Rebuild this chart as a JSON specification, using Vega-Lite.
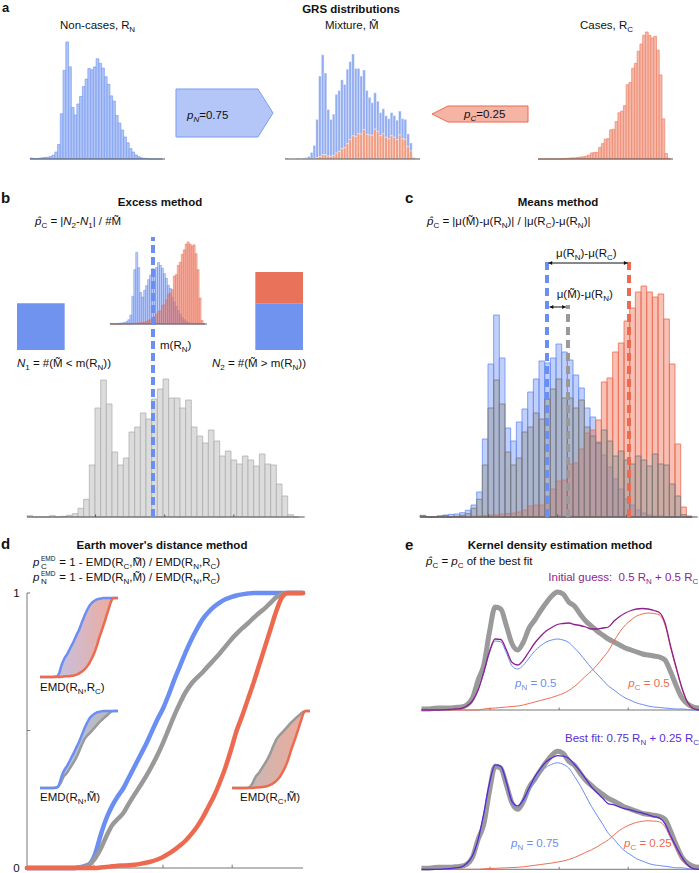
{
"$schema":"https://vega.github.io/schema/vega-lite/v6.json",
"width":699,"height":873,"autosize":"none","padding":0,"background":"#ffffff",
"config":{"view":{"stroke":null},"axis":{"disable":true},"legend":{"disable":true},"text":{"font":"Liberation Sans","fontSize":11.5,"align":"left","baseline":"alphabetic","color":"#111111"}},
"datasets":{
"one":[{}],
"ticks":[{"t":12.1},{"t":24.3},{"t":36.5}],
"dticks":[{"t":11.8},{"t":24},{"t":36.2}],
"lticks":[{"t":0.5},{"t":1}],
"hist":[
{"lo":0,"hi":1,"n":1.7,"c":0,"m":1.3,"mb":1.3,"mr":0},
{"lo":1,"hi":2,"n":0.5,"c":0,"m":0,"mb":0,"mr":0},
{"lo":2,"hi":3,"n":0.5,"c":0,"m":0,"mb":0,"mr":0},
{"lo":3,"hi":4,"n":1.3,"c":0,"m":0,"mb":0,"mr":0},
{"lo":4,"hi":5,"n":2,"c":0,"m":1.3,"mb":1.3,"mr":0},
{"lo":5,"hi":6,"n":2.7,"c":0,"m":0,"mb":0,"mr":0},
{"lo":6,"hi":7,"n":3,"c":0,"m":0.7,"mb":0.7,"mr":0},
{"lo":7,"hi":8,"n":4.3,"c":0,"m":1.7,"mb":1.7,"mr":0},
{"lo":8,"hi":9,"n":6.7,"c":0,"m":3.3,"mb":3.3,"mr":0},
{"lo":9,"hi":10,"n":12,"c":0.7,"m":8.7,"mb":8.7,"mr":0},
{"lo":10,"hi":11,"n":25,"c":1,"m":17.7,"mb":17.2,"mr":0.5},
{"lo":11,"hi":12,"n":78,"c":1.5,"m":52,"mb":50.4,"mr":1.6},
{"lo":12,"hi":13,"n":153,"c":2,"m":109,"mb":105.7,"mr":3.3},
{"lo":13,"hi":14,"n":202,"c":2,"m":137,"mb":131.5,"mr":5.5},
{"lo":14,"hi":15,"n":159,"c":3,"m":113,"mb":107.3,"mr":5.7},
{"lo":15,"hi":16,"n":89,"c":3.5,"m":65,"mb":61.1,"mr":3.9},
{"lo":16,"hi":17,"n":76,"c":4,"m":52,"mb":48.4,"mr":3.6},
{"lo":17,"hi":18,"n":95,"c":5,"m":59,"mb":54.3,"mr":4.7},
{"lo":18,"hi":19,"n":108,"c":7,"m":85,"mb":77.3,"mr":7.7},
{"lo":19,"hi":20,"n":125,"c":11,"m":90,"mb":80.1,"mr":9.9},
{"lo":20,"hi":21,"n":138,"c":12,"m":104,"mb":90.5,"mr":13.5},
{"lo":21,"hi":22,"n":156,"c":12,"m":98,"mb":83.3,"mr":14.7},
{"lo":22,"hi":23,"n":154,"c":21,"m":118,"mb":97.9,"mr":20.1},
{"lo":23,"hi":24,"n":159,"c":28,"m":128,"mb":102.4,"mr":25.6},
{"lo":24,"hi":25,"n":173,"c":36,"m":138,"mb":107.6,"mr":30.4},
{"lo":25,"hi":26,"n":165,"c":37,"m":119,"mb":89.2,"mr":29.8},
{"lo":26,"hi":27,"n":157,"c":53,"m":119,"mb":85.7,"mr":33.3},
{"lo":27,"hi":28,"n":142,"c":54,"m":109,"mb":76.3,"mr":32.7},
{"lo":28,"hi":29,"n":129,"c":68,"m":117,"mb":78.4,"mr":38.6},
{"lo":29,"hi":30,"n":109,"c":84,"m":90,"mb":57.6,"mr":32.4},
{"lo":30,"hi":31,"n":100,"c":87,"m":81,"mb":49.4,"mr":31.6},
{"lo":31,"hi":32,"n":75,"c":97,"m":74,"mb":42.9,"mr":31.1},
{"lo":32,"hi":33,"n":62,"c":135,"m":87,"mb":47.8,"mr":39.2},
{"lo":33,"hi":34,"n":50,"c":139,"m":76,"mb":39.5,"mr":36.5},
{"lo":34,"hi":35,"n":38,"c":165,"m":61,"mb":30.5,"mr":30.5},
{"lo":35,"hi":36,"n":28,"c":174,"m":66,"mb":33,"mr":33},
{"lo":36,"hi":37,"n":18,"c":196,"m":57,"mb":28.5,"mr":28.5},
{"lo":37,"hi":38,"n":12,"c":209,"m":53,"mb":26.5,"mr":26.5},
{"lo":38,"hi":39,"n":7,"c":225,"m":61,"mb":30.5,"mr":30.5},
{"lo":39,"hi":40,"n":4,"c":231,"m":57,"mb":28.5,"mr":28.5},
{"lo":40,"hi":41,"n":2,"c":225,"m":51,"mb":25.5,"mr":25.5},
{"lo":41,"hi":42,"n":1,"c":220,"m":63,"mb":31.5,"mr":31.5},
{"lo":42,"hi":43,"n":1,"c":223,"m":53,"mb":26.5,"mr":26.5},
{"lo":43,"hi":44,"n":0,"c":198,"m":52,"mb":26,"mr":26},
{"lo":44,"hi":45,"n":0,"c":153,"m":33,"mb":16.5,"mr":16.5},
{"lo":45,"hi":46,"n":0,"c":73,"m":21,"mb":10.5,"mr":10.5},
{"lo":46,"hi":47,"n":0,"c":10,"m":2.3,"mb":1.2,"mr":1.1},
{"lo":47,"hi":48,"n":0,"c":1,"m":0,"mb":0,"mr":0}
],
"cdf":[
{"g":0,"n":0,"m":0,"c":0},{"g":1,"n":0,"m":0,"c":0},{"g":2,"n":0,"m":0,"c":0},{"g":3,"n":0,"m":0,"c":0},
{"g":4,"n":0,"m":0,"c":0},{"g":5,"n":0,"m":0,"c":0},{"g":6,"n":0,"m":0,"c":0},{"g":7,"n":0,"m":0,"c":0},
{"g":8,"n":0,"m":0,"c":0},
{"g":9,"n":0.002,"m":0.001,"c":0},
{"g":10,"n":0.006,"m":0.003,"c":0},
{"g":11,"n":0.014,"m":0.012,"c":0},
{"g":12,"n":0.05,"m":0.035,"c":0},
{"g":13,"n":0.12,"m":0.07,"c":0.002},
{"g":14,"n":0.18,"m":0.115,"c":0.004},
{"g":15,"n":0.225,"m":0.155,"c":0.006},
{"g":16,"n":0.26,"m":0.178,"c":0.008},
{"g":17,"n":0.29,"m":0.2,"c":0.009},
{"g":18,"n":0.33,"m":0.235,"c":0.01},
{"g":19,"n":0.37,"m":0.268,"c":0.012},
{"g":20,"n":0.41,"m":0.3,"c":0.015},
{"g":21,"n":0.45,"m":0.333,"c":0.019},
{"g":22,"n":0.495,"m":0.37,"c":0.024},
{"g":23,"n":0.54,"m":0.41,"c":0.031},
{"g":24,"n":0.58,"m":0.455,"c":0.04},
{"g":25,"n":0.63,"m":0.505,"c":0.052},
{"g":26,"n":0.685,"m":0.555,"c":0.066},
{"g":27,"n":0.735,"m":0.6,"c":0.082},
{"g":28,"n":0.785,"m":0.64,"c":0.1},
{"g":29,"n":0.83,"m":0.67,"c":0.123},
{"g":30,"n":0.87,"m":0.692,"c":0.15},
{"g":31,"n":0.905,"m":0.712,"c":0.183},
{"g":32,"n":0.93,"m":0.735,"c":0.222},
{"g":33,"n":0.95,"m":0.757,"c":0.262},
{"g":34,"n":0.965,"m":0.78,"c":0.31},
{"g":35,"n":0.977,"m":0.805,"c":0.365},
{"g":36,"n":0.985,"m":0.83,"c":0.43},
{"g":37,"n":0.991,"m":0.852,"c":0.5},
{"g":38,"n":0.995,"m":0.872,"c":0.555},
{"g":39,"n":0.998,"m":0.89,"c":0.615},
{"g":40,"n":1,"m":0.91,"c":0.675},
{"g":41,"n":1,"m":0.928,"c":0.74},
{"g":42,"n":1,"m":0.945,"c":0.805},
{"g":43,"n":1,"m":0.965,"c":0.87},
{"g":44,"n":1,"m":0.985,"c":0.935},
{"g":45,"n":1,"m":0.996,"c":0.985},
{"g":46,"n":1,"m":1,"c":1},
{"g":47,"n":1,"m":1,"c":1},
{"g":48,"n":1,"m":1,"c":1},
{"g":48.7,"n":1,"m":1,"c":1}
],
"kde":[
{"g":0,"nh":0,"ch":0,"mh":0,"n75":0,"c25":0,"mb":0,"m":1},
{"g":1,"nh":0,"ch":0,"mh":0,"n75":0,"c25":0,"mb":0,"m":1},
{"g":2,"nh":0,"ch":0,"mh":0,"n75":0,"c25":0,"mb":0,"m":1.5},
{"g":3,"nh":0,"ch":0,"mh":0,"n75":0,"c25":0,"mb":0,"m":2},
{"g":4,"nh":0.25,"ch":0,"mh":0.25,"n75":0.38,"c25":0,"mb":0.38,"m":2},
{"g":5,"nh":0.5,"ch":0,"mh":0.5,"n75":0.75,"c25":0,"mb":0.75,"m":2},
{"g":6,"nh":1,"ch":0,"mh":1,"n75":1.5,"c25":0,"mb":1.5,"m":2.5},
{"g":7,"nh":1.5,"ch":0,"mh":1.5,"n75":2.25,"c25":0,"mb":2.25,"m":3},
{"g":8,"nh":4,"ch":0,"mh":4,"n75":6,"c25":0,"mb":6,"m":5},
{"g":9,"nh":9,"ch":0,"mh":9,"n75":13.5,"c25":0,"mb":13.5,"m":12},
{"g":10,"nh":20,"ch":0,"mh":20,"n75":30,"c25":0,"mb":30,"m":30},
{"g":11,"nh":37,"ch":1,"mh":38,"n75":55.5,"c25":0.5,"mb":56,"m":45},
{"g":12,"nh":57,"ch":1.5,"mh":58.5,"n75":85.5,"c25":0.75,"mb":86.25,"m":78},
{"g":13,"nh":69,"ch":2,"mh":71,"n75":103.5,"c25":1,"mb":104.5,"m":103},
{"g":14,"nh":68,"ch":2.5,"mh":70.5,"n75":102,"c25":1.25,"mb":103.25,"m":101},
{"g":15,"nh":57,"ch":3,"mh":60,"n75":85.5,"c25":1.5,"mb":87,"m":84},
{"g":16,"nh":44,"ch":3.5,"mh":47.5,"n75":66,"c25":1.75,"mb":67.75,"m":66},
{"g":17,"nh":41,"ch":4,"mh":45,"n75":61.5,"c25":2,"mb":63.5,"m":60},
{"g":18,"nh":45,"ch":5,"mh":50,"n75":67.5,"c25":2.5,"mb":70,"m":68},
{"g":19,"nh":52,"ch":6.5,"mh":58.5,"n75":78,"c25":3.25,"mb":81.25,"m":82},
{"g":20,"nh":59,"ch":8,"mh":67,"n75":88.5,"c25":4,"mb":92.5,"m":90},
{"g":21,"nh":64,"ch":9.5,"mh":73.5,"n75":96,"c25":4.75,"mb":100.75,"m":99},
{"g":22,"nh":68,"ch":11,"mh":79,"n75":102,"c25":5.5,"mb":107.5,"m":107},
{"g":23,"nh":70,"ch":12.5,"mh":82.5,"n75":105,"c25":6.25,"mb":111.25,"m":114},
{"g":24,"nh":71,"ch":14.5,"mh":85.5,"n75":106.5,"c25":7.25,"mb":113.75,"m":118},
{"g":25,"nh":70,"ch":16.5,"mh":86.5,"n75":105,"c25":8.25,"mb":113.25,"m":116},
{"g":26,"nh":67.5,"ch":19.5,"mh":87,"n75":101.25,"c25":9.75,"mb":111,"m":108},
{"g":27,"nh":62,"ch":23.5,"mh":85.5,"n75":93,"c25":11.75,"mb":104.75,"m":104},
{"g":28,"nh":56,"ch":28.5,"mh":84.5,"n75":84,"c25":14.25,"mb":98.25,"m":96},
{"g":29,"nh":49,"ch":34,"mh":83,"n75":73.5,"c25":17,"mb":90.5,"m":89},
{"g":30,"nh":42,"ch":39,"mh":81,"n75":63,"c25":19.5,"mb":82.5,"m":84},
{"g":31,"nh":36,"ch":45,"mh":81,"n75":54,"c25":22.5,"mb":76.5,"m":79},
{"g":32,"nh":30,"ch":52,"mh":82,"n75":45,"c25":26,"mb":71,"m":75},
{"g":33,"nh":24,"ch":59,"mh":83,"n75":36,"c25":29.5,"mb":65.5,"m":71},
{"g":34,"nh":20,"ch":69,"mh":89,"n75":30,"c25":34.5,"mb":64.5,"m":68},
{"g":35,"nh":15.5,"ch":78,"mh":93.5,"n75":23.25,"c25":39,"mb":62.25,"m":65},
{"g":36,"nh":12,"ch":85,"mh":97,"n75":18,"c25":42.5,"mb":60.5,"m":62},
{"g":37,"nh":9.5,"ch":90,"mh":99.5,"n75":14.25,"c25":45,"mb":59.25,"m":60},
{"g":38,"nh":7,"ch":94,"mh":101,"n75":10.5,"c25":47,"mb":57.5,"m":58},
{"g":39,"nh":5.5,"ch":96,"mh":101.5,"n75":8.25,"c25":48,"mb":56.25,"m":56},
{"g":40,"nh":4,"ch":97,"mh":101,"n75":6,"c25":48.5,"mb":54.5,"m":55},
{"g":41,"nh":3,"ch":96.5,"mh":99.5,"n75":4.5,"c25":48.25,"mb":52.75,"m":54},
{"g":42,"nh":2.5,"ch":95,"mh":97.5,"n75":3.75,"c25":47.5,"mb":51.25,"m":53},
{"g":43,"nh":2,"ch":85,"mh":87,"n75":3,"c25":42.5,"mb":45.5,"m":50},
{"g":44,"nh":1.5,"ch":62,"mh":63.5,"n75":2.25,"c25":31,"mb":33.25,"m":38},
{"g":45,"nh":1,"ch":41,"mh":42,"n75":1.5,"c25":20.5,"mb":22,"m":24},
{"g":46,"nh":1,"ch":21,"mh":22,"n75":1.5,"c25":10.5,"mb":12,"m":12},
{"g":47,"nh":0.5,"ch":7,"mh":7.5,"n75":0.75,"c25":3.5,"mb":4.25,"m":6},
{"g":48,"nh":0,"ch":1.5,"mh":1.5,"n75":0,"c25":0.75,"mb":0.75,"m":3},
{"g":49,"nh":0,"ch":0,"mh":0,"n75":0,"c25":0,"mb":0,"m":2}
]
},
"resolve":{"scale":{"x":"independent","y":"independent","color":"independent"}},
"layer":[
{"layer":[
 {"data":{"name":"hist"},"mark":{"type":"bar","fill":"#b0c4f7","stroke":"#7b9df2","strokeWidth":0.7},
  "encoding":{"x":{"field":"lo","type":"quantitative","axis":null,"scale":{"domain":[0,49],"range":[30,165],"nice":false,"zero":false}},"x2":{"field":"hi"},
   "y":{"field":"n","type":"quantitative","axis":null,"scale":{"domain":[0,202],"range":[159,42],"nice":false,"zero":false}},"y2":{"datum":0}}},
 {"data":{"name":"one"},"mark":{"type":"rule","color":"#555555","strokeWidth":1},"encoding":{"x":{"datum":0},"x2":{"datum":49},"y":{"datum":0}}}
]},
{"layer":[
 {"data":{"name":"hist"},"mark":{"type":"bar","fill":"#f6b9a9","stroke":"#ef8269","strokeWidth":0.7},
  "encoding":{"x":{"field":"lo","type":"quantitative","axis":null,"scale":{"domain":[0,49],"range":[538,673],"nice":false,"zero":false}},"x2":{"field":"hi"},
   "y":{"field":"c","type":"quantitative","axis":null,"scale":{"domain":[0,231],"range":[159,32],"nice":false,"zero":false}},"y2":{"datum":0}}},
 {"data":{"name":"one"},"mark":{"type":"rule","color":"#555555","strokeWidth":1},"encoding":{"x":{"datum":0},"x2":{"datum":49},"y":{"datum":0}}}
]},
{"layer":[
 {"data":{"name":"hist"},"transform":[{"fold":["mb","mr"],"as":["part","val"]}],"mark":{"type":"bar","binSpacing":0,"stroke":"#ffffff","strokeWidth":0.4},
  "encoding":{"x":{"field":"lo","bin":"binned","type":"quantitative","axis":null,"scale":{"domain":[0,49],"range":[285,420],"nice":false,"zero":false}},"x2":{"field":"hi"},
   "y":{"field":"val","type":"quantitative","stack":"zero","axis":null,"scale":{"domain":[0,138],"range":[159,54],"nice":false,"zero":false}},
   "color":{"field":"part","type":"nominal","legend":null,"scale":{"domain":["mb","mr"],"range":["#93adf1","#f09a80"]}}}},
 {"data":{"name":"one"},"mark":{"type":"rule","color":"#555555","strokeWidth":1},"encoding":{"x":{"datum":0},"x2":{"datum":49},"y":{"datum":0}}},
 {"data":{"name":"one"},"mark":{"type":"point","shape":"M-1,-0.495L0.69,-0.495L1,0L0.69,0.495L-1,0.495Z","size":9409,"filled":true,"fill":"#b3c6f7","stroke":"#7b9df2","strokeWidth":1,"opacity":1},"encoding":{"x":{"datum":-21.96},"y":{"datum":60.46}}},
 {"data":{"name":"one"},"mark":{"type":"point","shape":"M1,-0.167L-0.667,-0.167L-1,0L-0.667,0.167L1,0.167Z","size":9216,"filled":true,"fill":"#f5b4a4","stroke":"#ec6b50","strokeWidth":1,"opacity":1},"encoding":{"x":{"datum":70.78},"y":{"datum":59.14}}},
 {"data":{"name":"one"},"mark":{"type":"text","text":"a","fontSize":13,"fontWeight":"bold"},"encoding":{"x":{"datum":-102.7},"y":{"datum":193}}},
 {"data":{"name":"one"},"mark":{"type":"text","text":"GRS distributions","fontWeight":"bold","align":"center"},"encoding":{"x":{"datum":23.96},"y":{"datum":192.3}}},
 {"data":{"name":"one"},"encoding":{"x":{"datum":-81.67},"y":{"datum":170.86}},"layer":[
   {"mark":{"type":"text","text":"Non-cases, R"}},
   {"mark":{"type":"text","text":"N","fontSize":8,"dx":69.2,"dy":3}}]},
 {"data":{"name":"one"},"mark":{"type":"text","text":"Mixture, M\u0303"},"encoding":{"x":{"datum":14.52},"y":{"datum":170.86}}},
 {"data":{"name":"one"},"encoding":{"x":{"datum":107.07},"y":{"datum":170.86}},"layer":[
   {"mark":{"type":"text","text":"Cases, R"}},
   {"mark":{"type":"text","text":"C","fontSize":8,"dx":47.3,"dy":3}}]},
 {"data":{"name":"one"},"encoding":{"x":{"datum":-35.57},"y":{"datum":52.57}},"layer":[
   {"mark":{"type":"text","text":"p","fontStyle":"italic"}},
   {"mark":{"type":"text","text":"N","fontSize":8,"fontStyle":"italic","dx":6.4,"dy":3}},
   {"mark":{"type":"text","text":"=0.75","dx":12.2}}]},
 {"data":{"name":"one"},"encoding":{"x":{"datum":64.97},"y":{"datum":53.89}},"layer":[
   {"mark":{"type":"text","text":"p","fontStyle":"italic"}},
   {"mark":{"type":"text","text":"C","fontSize":8,"fontStyle":"italic","dx":6.4,"dy":3}},
   {"mark":{"type":"text","text":"=0.25","dx":12.2}}]}
]},
{"layer":[
 {"data":{"name":"hist"},"mark":{"type":"bar","fill":"#6a8ef2","fillOpacity":0.45,"stroke":"#6a8ef2","strokeWidth":0.5},
  "encoding":{"x":{"field":"lo","type":"quantitative","axis":null,"scale":{"domain":[0,49],"range":[110,207],"nice":false,"zero":false}},"x2":{"field":"hi"},
   "y":{"field":"n","type":"quantitative","axis":null,"scale":{"domain":[0,231],"range":[324,242],"nice":false,"zero":false}},"y2":{"datum":0}}},
 {"data":{"name":"hist"},"mark":{"type":"bar","fill":"#ec6b50","fillOpacity":0.45,"stroke":"#ec6b50","strokeWidth":0.5},
  "encoding":{"x":{"field":"lo","type":"quantitative"},"x2":{"field":"hi"},"y":{"field":"c","type":"quantitative"},"y2":{"datum":0}}},
 {"data":{"name":"one"},"mark":{"type":"rule","color":"#666666","strokeWidth":1},"encoding":{"x":{"datum":0},"x2":{"datum":49},"y":{"datum":0}}}
]},
{"layer":[
 {"data":{"values":[{"grp":"N1","part":"N","lo":0,"hi":0.375},{"grp":"N2","part":"N","lo":0,"hi":0.375},{"grp":"N2","part":"C","lo":0.375,"hi":0.625}]},
  "mark":{"type":"bar"},
  "encoding":{"x":{"field":"grp","type":"nominal","axis":null,"scale":{"domain":["N1","N2"],"range":[17,303],"paddingInner":0.8,"paddingOuter":0}},
   "y":{"field":"lo","type":"quantitative","axis":null,"scale":{"domain":[0,1],"range":[350,225],"nice":false,"zero":false}},"y2":{"field":"hi"},
   "color":{"field":"part","type":"nominal","legend":null,"scale":{"domain":["N","C"],"range":["#7093ef","#e8735a"]}}}}
]},
{"layer":[
 {"data":{"name":"hist"},"mark":{"type":"bar","fill":"#dcdcdc","stroke":"#a9a9a9","strokeWidth":0.7},
  "encoding":{"x":{"field":"lo","type":"quantitative","axis":null,"scale":{"domain":[0,49],"range":[27,304.7],"nice":false,"zero":false}},"x2":{"field":"hi"},
   "y":{"field":"m","type":"quantitative","axis":null,"scale":{"domain":[0,138],"range":[517,379],"nice":false,"zero":false}},"y2":{"datum":0}}},
 {"data":{"name":"one"},"mark":{"type":"rule","color":"#555555","strokeWidth":1},"encoding":{"x":{"datum":0},"x2":{"datum":49},"y":{"datum":0}}},
 {"data":{"name":"ticks"},"mark":{"type":"rule","color":"#555555","strokeWidth":1},"encoding":{"x":{"field":"t","type":"quantitative"},"y":{"datum":0},"y2":{"datum":2.5}}},
 {"data":{"name":"one"},"mark":{"type":"rule","color":"#6a8ef2","strokeWidth":4,"strokeDash":[8,4]},"encoding":{"x":{"datum":22.23},"y":{"datum":0},"y2":{"datum":280}}},
 {"data":{"name":"one"},"mark":{"type":"text","text":"b","fontSize":15,"fontWeight":"bold"},"encoding":{"x":{"datum":-4.588},"y":{"datum":314}}},
 {"data":{"name":"one"},"mark":{"type":"text","text":"Excess method","fontWeight":"bold","align":"center"},"encoding":{"x":{"datum":23.468},"y":{"datum":311.5}}},
 {"data":{"name":"one"},"encoding":{"x":{"datum":1.4116},"y":{"datum":292}},"layer":[
   {"mark":{"type":"text","text":"p\u0302","fontStyle":"italic"}},
   {"mark":{"type":"text","text":"C","fontSize":8,"dx":6.4,"dy":3}},
   {"mark":{"type":"text","text":"= |","dx":15.4}},
   {"mark":{"type":"text","text":"N","fontStyle":"italic","dx":28.3}},
   {"mark":{"type":"text","text":"2","fontSize":8,"dx":36.6,"dy":3}},
   {"mark":{"type":"text","text":"-","dx":41.05}},
   {"mark":{"type":"text","text":"N","fontStyle":"italic","dx":44.9}},
   {"mark":{"type":"text","text":"1","fontSize":8,"dx":53.2,"dy":3}},
   {"mark":{"type":"text","text":"| / #M\u0303","dx":57.65}}]},
 {"data":{"name":"one"},"encoding":{"x":{"datum":23.468},"y":{"datum":168}},"layer":[
   {"mark":{"type":"text","text":"m(R"}},
   {"mark":{"type":"text","text":"N","fontSize":8,"dx":21.7,"dy":3}},
   {"mark":{"type":"text","text":")","dx":27.5}}]},
 {"data":{"name":"one"},"encoding":{"x":{"datum":-1.7645},"y":{"datum":150}},"layer":[
   {"mark":{"type":"text","text":"N","fontStyle":"italic"}},
   {"mark":{"type":"text","text":"1","fontSize":8,"dx":8.3,"dy":3}},
   {"mark":{"type":"text","text":"= #(M\u0303 < m(R","dx":15.95}},
   {"mark":{"type":"text","text":"N","fontSize":8,"dx":80.5,"dy":3}},
   {"mark":{"type":"text","text":"))","dx":86.3}}]},
 {"data":{"name":"one"},"encoding":{"x":{"datum":32.643},"y":{"datum":150}},"layer":[
   {"mark":{"type":"text","text":"N","fontStyle":"italic"}},
   {"mark":{"type":"text","text":"2","fontSize":8,"dx":8.3,"dy":3}},
   {"mark":{"type":"text","text":"= #(M\u0303 > m(R","dx":15.95}},
   {"mark":{"type":"text","text":"N","fontSize":8,"dx":80.5,"dy":3}},
   {"mark":{"type":"text","text":"))","dx":86.3}}]}
]},
{"layer":[
 {"data":{"name":"hist"},"mark":{"type":"bar","fill":"#6a8ef2","fillOpacity":0.42,"stroke":"#6a8ef2","strokeWidth":0.8},
  "encoding":{"x":{"field":"lo","type":"quantitative","axis":null,"scale":{"domain":[0,49],"range":[420,697.7],"nice":false,"zero":false}},"x2":{"field":"hi"},
   "y":{"field":"n","type":"quantitative","axis":null,"scale":{"domain":[0,231],"range":[517,286],"nice":false,"zero":false}},"y2":{"datum":0}}},
 {"data":{"name":"hist"},"mark":{"type":"bar","fill":"#ec6b50","fillOpacity":0.42,"stroke":"#ec6b50","strokeWidth":0.8},
  "encoding":{"x":{"field":"lo","type":"quantitative"},"x2":{"field":"hi"},"y":{"field":"c","type":"quantitative"},"y2":{"datum":0}}},
 {"data":{"name":"hist"},"mark":{"type":"bar","fill":"#8f8f8f","fillOpacity":0.42,"stroke":"#7a7a7a","strokeWidth":0.8},
  "encoding":{"x":{"field":"lo","type":"quantitative"},"x2":{"field":"hi"},"y":{"field":"m","type":"quantitative"},"y2":{"datum":0}}},
 {"data":{"name":"one"},"mark":{"type":"rule","color":"#555555","strokeWidth":1},"encoding":{"x":{"datum":0},"x2":{"datum":49},"y":{"datum":0}}},
 {"data":{"name":"ticks"},"mark":{"type":"rule","color":"#555555","strokeWidth":1},"encoding":{"x":{"field":"t","type":"quantitative"},"y":{"datum":0},"y2":{"datum":2.5}}},
 {"data":{"name":"one"},"mark":{"type":"rule","color":"#6a8ef2","strokeWidth":4,"strokeDash":[8,5]},"encoding":{"x":{"datum":22.41},"y":{"datum":0},"y2":{"datum":255.5}}},
 {"data":{"name":"one"},"mark":{"type":"rule","color":"#999999","strokeWidth":4,"strokeDash":[8,5]},"encoding":{"x":{"datum":26.11},"y":{"datum":0},"y2":{"datum":212}}},
 {"data":{"name":"one"},"mark":{"type":"rule","color":"#ec6b50","strokeWidth":4,"strokeDash":[8,5]},"encoding":{"x":{"datum":36.88},"y":{"datum":0},"y2":{"datum":255.5}}},
 {"data":{"name":"one"},"mark":{"type":"rule","color":"#111111","strokeWidth":1},"encoding":{"x":{"datum":22.65},"x2":{"datum":36.65},"y":{"datum":254}}},
 {"data":{"name":"one"},"mark":{"type":"point","shape":"triangle-left","size":18,"filled":true,"color":"#111111","opacity":1},"encoding":{"x":{"datum":23.0},"y":{"datum":254}}},
 {"data":{"name":"one"},"mark":{"type":"point","shape":"triangle-right","size":18,"filled":true,"color":"#111111","opacity":1},"encoding":{"x":{"datum":36.3},"y":{"datum":254}}},
 {"data":{"name":"one"},"mark":{"type":"rule","color":"#111111","strokeWidth":1},"encoding":{"x":{"datum":22.85},"x2":{"datum":25.75},"y":{"datum":210}}},
 {"data":{"name":"one"},"mark":{"type":"point","shape":"triangle-left","size":18,"filled":true,"color":"#111111","opacity":1},"encoding":{"x":{"datum":23.2},"y":{"datum":210}}},
 {"data":{"name":"one"},"mark":{"type":"point","shape":"triangle-right","size":18,"filled":true,"color":"#111111","opacity":1},"encoding":{"x":{"datum":25.4},"y":{"datum":210}}},
 {"data":{"name":"one"},"mark":{"type":"text","text":"c","fontSize":15,"fontWeight":"bold"},"encoding":{"x":{"datum":-2.647},"y":{"datum":314}}},
 {"data":{"name":"one"},"mark":{"type":"text","text":"Means method","fontWeight":"bold","align":"center"},"encoding":{"x":{"datum":24.35},"y":{"datum":311.5}}},
 {"data":{"name":"one"},"encoding":{"x":{"datum":1.235},"y":{"datum":292}},"layer":[
   {"mark":{"type":"text","text":"p\u0302","fontStyle":"italic"}},
   {"mark":{"type":"text","text":"C","fontSize":8,"dx":6.4,"dy":3}},
   {"mark":{"type":"text","text":"= |\u03bc(M\u0303)-\u03bc(R","dx":15.4}},
   {"mark":{"type":"text","text":"N","fontSize":8,"dx":74.75,"dy":3}},
   {"mark":{"type":"text","text":")| / |\u03bc(R","dx":80.52}},
   {"mark":{"type":"text","text":"C","fontSize":8,"dx":118.67,"dy":3}},
   {"mark":{"type":"text","text":")-\u03bc(R","dx":124.45}},
   {"mark":{"type":"text","text":"N","fontSize":8,"dx":150.86,"dy":3}},
   {"mark":{"type":"text","text":")|","dx":156.64}}]},
 {"data":{"name":"one"},"encoding":{"x":{"datum":23.998},"y":{"datum":260.5}},"layer":[
   {"mark":{"type":"text","text":"\u03bc(R"}},
   {"mark":{"type":"text","text":"N","fontSize":8,"dx":18.75,"dy":3}},
   {"mark":{"type":"text","text":")-\u03bc(R","dx":24.53}},
   {"mark":{"type":"text","text":"C","fontSize":8,"dx":50.94,"dy":3}},
   {"mark":{"type":"text","text":")","dx":56.72}}]},
 {"data":{"name":"one"},"encoding":{"x":{"datum":24.12},"y":{"datum":219.5}},"layer":[
   {"mark":{"type":"text","text":"\u03bc(M\u0303)-\u03bc(R"}},
   {"mark":{"type":"text","text":"N","fontSize":8,"dx":46.44,"dy":3}},
   {"mark":{"type":"text","text":")","dx":52.22}}]}
]},
{"layer":[
 {"data":{"name":"one"},"mark":{"type":"rule","color":"#777777","strokeWidth":1},"encoding":{"x":{"datum":0,"type":"quantitative","axis":null,"scale":{"domain":[0,48.7],"range":[27,303],"nice":false,"zero":false}},"y":{"datum":0,"type":"quantitative","axis":null,"scale":{"domain":[0,1],"range":[868,593],"nice":false,"zero":false}},"y2":{"datum":1}}},
 {"data":{"name":"one"},"mark":{"type":"rule","color":"#777777","strokeWidth":1},"encoding":{"x":{"datum":0},"x2":{"datum":48.7},"y":{"datum":0}}},
 {"data":{"name":"lticks"},"mark":{"type":"rule","color":"#777777","strokeWidth":1},"encoding":{"y":{"field":"t","type":"quantitative"},"x":{"datum":0},"x2":{"datum":0.55}}},
 {"data":{"name":"dticks"},"mark":{"type":"rule","color":"#777777","strokeWidth":1},"encoding":{"x":{"field":"t","type":"quantitative"},"y":{"datum":0},"y2":{"datum":0.012}}},
 {"data":{"name":"cdf"},"mark":{"type":"line","color":"#6a8ef2","strokeWidth":4.5,"interpolate":"monotone","strokeCap":"round"},"encoding":{"x":{"field":"g","type":"quantitative"},"y":{"field":"n","type":"quantitative"}}},
 {"data":{"name":"cdf"},"mark":{"type":"line","color":"#999999","strokeWidth":4.5,"interpolate":"monotone","strokeCap":"round"},"encoding":{"x":{"field":"g","type":"quantitative"},"y":{"field":"m","type":"quantitative"}}},
 {"data":{"name":"cdf"},"mark":{"type":"line","color":"#ec6b50","strokeWidth":4.5,"interpolate":"monotone","strokeCap":"round"},"encoding":{"x":{"field":"g","type":"quantitative"},"y":{"field":"c","type":"quantitative"}}},
 {"data":{"name":"one"},"mark":{"type":"text","text":"d","fontSize":15,"fontWeight":"bold"},"encoding":{"x":{"datum":-4.588},"y":{"datum":1.16}}},
 {"data":{"name":"one"},"mark":{"type":"text","text":"Earth mover's distance method","fontWeight":"bold","align":"center"},"encoding":{"x":{"datum":23.82},"y":{"datum":1.16}}},
 {"data":{"name":"one"},"mark":{"type":"text","text":"1"},"encoding":{"x":{"datum":-2.417},"y":{"datum":0.98545}}},
 {"data":{"name":"one"},"mark":{"type":"text","text":"0"},"encoding":{"x":{"datum":-2.417},"y":{"datum":-0.01345}}},
 {"data":{"name":"one"},"encoding":{"x":{"datum":1.0587},"y":{"datum":1.0964}},"layer":[
   {"mark":{"type":"text","text":"p","fontStyle":"italic"}},
   {"mark":{"type":"text","text":"C","fontSize":8,"dx":8,"dy":3}},
   {"mark":{"type":"text","text":"EMD","fontSize":6.5,"dx":8,"dy":-5}},
   {"mark":{"type":"text","text":"= 1 - EMD(R","dx":26.3}},
   {"mark":{"type":"text","text":"C","fontSize":8,"dx":90.5,"dy":3}},
   {"mark":{"type":"text","text":",M\u0303) / EMD(R","dx":96.3}},
   {"mark":{"type":"text","text":"N","fontSize":8,"dx":160.2,"dy":3}},
   {"mark":{"type":"text","text":",R","dx":166}},
   {"mark":{"type":"text","text":"C","fontSize":8,"dx":177.5,"dy":3}},
   {"mark":{"type":"text","text":")","dx":183.3}}]},
 {"data":{"name":"one"},"encoding":{"x":{"datum":1.0587},"y":{"datum":1.0436}},"layer":[
   {"mark":{"type":"text","text":"p","fontStyle":"italic"}},
   {"mark":{"type":"text","text":"N","fontSize":8,"dx":8,"dy":3}},
   {"mark":{"type":"text","text":"EMD","fontSize":6.5,"dx":8,"dy":-5}},
   {"mark":{"type":"text","text":"= 1 - EMD(R","dx":26.3}},
   {"mark":{"type":"text","text":"N","fontSize":8,"dx":90.5,"dy":3}},
   {"mark":{"type":"text","text":",M\u0303) / EMD(R","dx":96.3}},
   {"mark":{"type":"text","text":"N","fontSize":8,"dx":160.2,"dy":3}},
   {"mark":{"type":"text","text":",R","dx":166}},
   {"mark":{"type":"text","text":"C","fontSize":8,"dx":177.5,"dy":3}},
   {"mark":{"type":"text","text":")","dx":183.3}}]},
 {"data":{"name":"one"},"encoding":{"x":{"datum":2.2938},"y":{"datum":0.64545}},"layer":[
   {"mark":{"type":"text","text":"EMD(R"}},
   {"mark":{"type":"text","text":"N","fontSize":8,"dx":37.7,"dy":3}},
   {"mark":{"type":"text","text":",R","dx":43.5}},
   {"mark":{"type":"text","text":"C","fontSize":8,"dx":55,"dy":3}},
   {"mark":{"type":"text","text":")","dx":60.8}}]},
 {"data":{"name":"one"},"encoding":{"x":{"datum":2.2938},"y":{"datum":0.24364}},"layer":[
   {"mark":{"type":"text","text":"EMD(R"}},
   {"mark":{"type":"text","text":"N","fontSize":8,"dx":37.7,"dy":3}},
   {"mark":{"type":"text","text":",M\u0303)","dx":43.5}}]},
 {"data":{"name":"one"},"encoding":{"x":{"datum":37.583},"y":{"datum":0.24364}},"layer":[
   {"mark":{"type":"text","text":"EMD(R"}},
   {"mark":{"type":"text","text":"C","fontSize":8,"dx":37.7,"dy":3}},
   {"mark":{"type":"text","text":",M\u0303)","dx":43.5}}]}
]},
{"layer":[
 {"data":{"name":"cdf"},"mark":{"type":"area","interpolate":"monotone","fillOpacity":0.95,"fill":{"gradient":"linear","x1":0,"y1":0,"x2":1,"y2":0,"stops":[{"offset":0,"color":"#b4c4f2"},{"offset":1,"color":"#f1a593"}]}},
  "encoding":{"x":{"field":"g","type":"quantitative","axis":null,"scale":{"domain":[0,48.7],"range":[40,118],"nice":false,"zero":false}},"y":{"field":"n","type":"quantitative","axis":null,"scale":{"domain":[0,1],"range":[677,598],"nice":false,"zero":false}},"y2":{"field":"c"}}},
 {"data":{"name":"cdf"},"mark":{"type":"line","color":"#6a8ef2","strokeWidth":2.5,"interpolate":"monotone"},"encoding":{"x":{"field":"g","type":"quantitative"},"y":{"field":"n","type":"quantitative"}}},
 {"data":{"name":"cdf"},"mark":{"type":"line","color":"#ec6b50","strokeWidth":2.5,"interpolate":"monotone"},"encoding":{"x":{"field":"g","type":"quantitative"},"y":{"field":"c","type":"quantitative"}}}
]},
{"layer":[
 {"data":{"name":"cdf"},"mark":{"type":"area","interpolate":"monotone","fillOpacity":0.95,"fill":{"gradient":"linear","x1":0,"y1":0,"x2":1,"y2":0,"stops":[{"offset":0,"color":"#b8c3e6"},{"offset":1,"color":"#b3b3b3"}]}},
  "encoding":{"x":{"field":"g","type":"quantitative","axis":null,"scale":{"domain":[0,48.7],"range":[40,118],"nice":false,"zero":false}},"y":{"field":"n","type":"quantitative","axis":null,"scale":{"domain":[0,1],"range":[788,711],"nice":false,"zero":false}},"y2":{"field":"m"}}},
 {"data":{"name":"cdf"},"mark":{"type":"line","color":"#999999","strokeWidth":2.5,"interpolate":"monotone"},"encoding":{"x":{"field":"g","type":"quantitative"},"y":{"field":"m","type":"quantitative"}}},
 {"data":{"name":"cdf"},"mark":{"type":"line","color":"#6a8ef2","strokeWidth":2.5,"interpolate":"monotone"},"encoding":{"x":{"field":"g","type":"quantitative"},"y":{"field":"n","type":"quantitative"}}}
]},
{"layer":[
 {"data":{"name":"cdf"},"mark":{"type":"area","interpolate":"monotone","fillOpacity":0.95,"fill":{"gradient":"linear","x1":0,"y1":0,"x2":1,"y2":0,"stops":[{"offset":0,"color":"#b8b8b8"},{"offset":1,"color":"#f1a593"}]}},
  "encoding":{"x":{"field":"g","type":"quantitative","axis":null,"scale":{"domain":[0,48.7],"range":[232,310],"nice":false,"zero":false}},"y":{"field":"m","type":"quantitative","axis":null,"scale":{"domain":[0,1],"range":[788,711],"nice":false,"zero":false}},"y2":{"field":"c"}}},
 {"data":{"name":"cdf"},"mark":{"type":"line","color":"#999999","strokeWidth":2.5,"interpolate":"monotone"},"encoding":{"x":{"field":"g","type":"quantitative"},"y":{"field":"m","type":"quantitative"}}},
 {"data":{"name":"cdf"},"mark":{"type":"line","color":"#ec6b50","strokeWidth":2.5,"interpolate":"monotone"},"encoding":{"x":{"field":"g","type":"quantitative"},"y":{"field":"c","type":"quantitative"}}}
]},
{"layer":[
 {"data":{"name":"one"},"mark":{"type":"rule","color":"#777777","strokeWidth":1},"encoding":{"x":{"datum":0,"type":"quantitative","axis":null,"scale":{"domain":[0,49],"range":[421.5,699],"nice":false,"zero":false}},"x2":{"datum":49},"y":{"datum":0,"type":"quantitative","axis":null,"scale":{"domain":[0,130],"range":[710,580],"nice":false,"zero":false}}}},
 {"data":{"name":"ticks"},"mark":{"type":"rule","color":"#777777","strokeWidth":1},"encoding":{"x":{"field":"t","type":"quantitative"},"y":{"datum":0},"y2":{"datum":2.5}}},
 {"data":{"name":"kde"},"mark":{"type":"line","color":"#9a9a9a","strokeWidth":5,"interpolate":"monotone"},"encoding":{"x":{"field":"g","type":"quantitative"},"y":{"field":"m","type":"quantitative"}}},
 {"data":{"name":"kde"},"mark":{"type":"line","color":"#ee6e52","strokeWidth":1,"interpolate":"monotone"},"encoding":{"x":{"field":"g","type":"quantitative"},"y":{"field":"ch","type":"quantitative"}}},
 {"data":{"name":"kde"},"mark":{"type":"line","color":"#6a8ef2","strokeWidth":1,"interpolate":"monotone"},"encoding":{"x":{"field":"g","type":"quantitative"},"y":{"field":"nh","type":"quantitative"}}},
 {"data":{"name":"kde"},"mark":{"type":"line","color":"#8e1f8e","strokeWidth":1.3,"interpolate":"monotone"},"encoding":{"x":{"field":"g","type":"quantitative"},"y":{"field":"mh","type":"quantitative"}}},
 {"data":{"name":"one"},"mark":{"type":"text","text":"e","fontSize":15,"fontWeight":"bold"},"encoding":{"x":{"datum":-2.9135},"y":{"datum":160}}},
 {"data":{"name":"one"},"mark":{"type":"text","text":"Kernel density estimation method","fontWeight":"bold","align":"center"},"encoding":{"x":{"datum":24.456},"y":{"datum":161.5}}},
 {"data":{"name":"one"},"encoding":{"x":{"datum":0.7946},"y":{"datum":145.5}},"layer":[
   {"mark":{"type":"text","text":"p\u0302","fontStyle":"italic"}},
   {"mark":{"type":"text","text":"C","fontSize":8,"dx":6.4,"dy":3}},
   {"mark":{"type":"text","text":"=","dx":15.4}},
   {"mark":{"type":"text","text":"p","fontStyle":"italic","dx":25.3}},
   {"mark":{"type":"text","text":"C","fontSize":8,"dx":31.7,"dy":3}},
   {"mark":{"type":"text","text":"of the best fit","dx":40.7}}]},
 {"data":{"name":"one"},"encoding":{"x":{"datum":22.39},"y":{"datum":129}},"layer":[
   {"mark":{"type":"text","text":"Initial guess:","color":"#8e238f"}},
   {"mark":{"type":"text","text":"0.5 R","color":"#8e238f","dx":70.3}},
   {"mark":{"type":"text","text":"N","color":"#8e238f","fontSize":8,"dx":97.8,"dy":3}},
   {"mark":{"type":"text","text":"+ 0.5 R","color":"#8e238f","dx":106.8}},
   {"mark":{"type":"text","text":"C","color":"#8e238f","fontSize":8,"dx":144.2,"dy":3}}]},
 {"data":{"name":"one"},"encoding":{"x":{"datum":16.51},"y":{"datum":23.5}},"layer":[
   {"mark":{"type":"text","text":"p","fontStyle":"italic","color":"#6a8ef2"}},
   {"mark":{"type":"text","text":"N","fontSize":8,"color":"#6a8ef2","dx":6.4,"dy":3}},
   {"mark":{"type":"text","text":"= 0.5","color":"#6a8ef2","dx":15.4}}]},
 {"data":{"name":"one"},"encoding":{"x":{"datum":36.52},"y":{"datum":23.5}},"layer":[
   {"mark":{"type":"text","text":"p","fontStyle":"italic","color":"#ec6b50"}},
   {"mark":{"type":"text","text":"C","fontSize":8,"color":"#ec6b50","dx":6.4,"dy":3}},
   {"mark":{"type":"text","text":"= 0.5","color":"#ec6b50","dx":15.4}}]}
]},
{"layer":[
 {"data":{"name":"one"},"mark":{"type":"rule","color":"#777777","strokeWidth":1},"encoding":{"x":{"datum":0,"type":"quantitative","axis":null,"scale":{"domain":[0,49],"range":[421.5,699],"nice":false,"zero":false}},"x2":{"datum":49},"y":{"datum":0,"type":"quantitative","axis":null,"scale":{"domain":[0,130],"range":[869.3,739.3],"nice":false,"zero":false}}}},
 {"data":{"name":"ticks"},"mark":{"type":"rule","color":"#777777","strokeWidth":1},"encoding":{"x":{"field":"t","type":"quantitative"},"y":{"datum":0},"y2":{"datum":2.5}}},
 {"data":{"name":"kde"},"mark":{"type":"line","color":"#9a9a9a","strokeWidth":5,"interpolate":"monotone"},"encoding":{"x":{"field":"g","type":"quantitative"},"y":{"field":"m","type":"quantitative"}}},
 {"data":{"name":"kde"},"mark":{"type":"line","color":"#ee6e52","strokeWidth":1,"interpolate":"monotone"},"encoding":{"x":{"field":"g","type":"quantitative"},"y":{"field":"c25","type":"quantitative"}}},
 {"data":{"name":"kde"},"mark":{"type":"line","color":"#6a8ef2","strokeWidth":1,"interpolate":"monotone"},"encoding":{"x":{"field":"g","type":"quantitative"},"y":{"field":"n75","type":"quantitative"}}},
 {"data":{"name":"kde"},"mark":{"type":"line","color":"#5a28d2","strokeWidth":1.3,"interpolate":"monotone"},"encoding":{"x":{"field":"g","type":"quantitative"},"y":{"field":"mb","type":"quantitative"}}},
 {"data":{"name":"one"},"encoding":{"x":{"datum":25.339},"y":{"datum":127.8}},"layer":[
   {"mark":{"type":"text","text":"Best fit: 0.75 R","color":"#5a2ed6"}},
   {"mark":{"type":"text","text":"N","color":"#5a2ed6","fontSize":8,"dx":75.4,"dy":3}},
   {"mark":{"type":"text","text":"+ 0.25 R","color":"#5a2ed6","dx":84.4}},
   {"mark":{"type":"text","text":"C","color":"#5a2ed6","fontSize":8,"dx":128.2,"dy":3}}]},
 {"data":{"name":"one"},"encoding":{"x":{"datum":15.804},"y":{"datum":22.8}},"layer":[
   {"mark":{"type":"text","text":"p","fontStyle":"italic","color":"#6a8ef2"}},
   {"mark":{"type":"text","text":"N","fontSize":8,"color":"#6a8ef2","dx":6.4,"dy":3}},
   {"mark":{"type":"text","text":"= 0.75","color":"#6a8ef2","dx":15.4}}]},
 {"data":{"name":"one"},"encoding":{"x":{"datum":35.757},"y":{"datum":22.8}},"layer":[
   {"mark":{"type":"text","text":"p","fontStyle":"italic","color":"#ec6b50"}},
   {"mark":{"type":"text","text":"C","fontSize":8,"color":"#ec6b50","dx":6.4,"dy":3}},
   {"mark":{"type":"text","text":"= 0.25","color":"#ec6b50","dx":15.4}}]}
]}
]
}
